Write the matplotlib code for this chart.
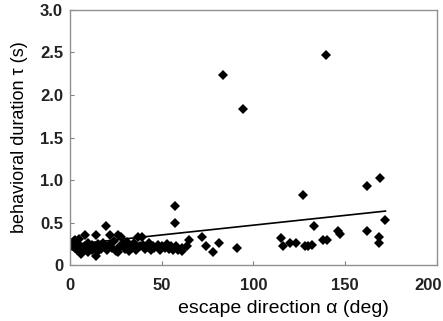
import numpy as np
import matplotlib.pyplot as plt
import matplotlib.transforms as mtransforms

plt.rcParams['font.family'] = ['Liberation Sans', 'DejaVu Sans']

# escape direction (deg) and behavioral duration (s)
alpha = np.array([0.5, 1, 2, 3, 3, 4, 5, 5, 6, 6, 7, 8, 8, 9, 10, 10, 11, 12, 12, 13,
                  14, 14, 15, 15, 16, 17, 18, 19, 19.5, 20, 21, 22, 23, 24, 25, 26, 26,
                  27, 28, 29, 30, 31, 32, 33, 34, 35, 36, 37, 38, 39, 40, 41, 42, 43,
                  44, 45, 46, 48, 49, 50, 52, 53, 54, 55, 56, 57, 57, 58, 59, 61, 61,
                  64, 65, 72, 74, 78, 81, 91, 83.4, 94.3, 115, 116, 120, 123, 127, 128,
                  130, 132, 133, 138, 140, 139.5, 146, 147, 162, 162, 169, 168.6, 168.6,
                  172])
tau = np.array([0.26, 0.22, 0.28, 0.30, 0.20, 0.18, 0.31, 0.24, 0.13, 0.21, 0.17, 0.36,
                0.23, 0.19, 0.26, 0.16, 0.21, 0.24, 0.18, 0.20, 0.36, 0.11, 0.25, 0.17,
                0.22, 0.19, 0.26, 0.21, 0.46, 0.18, 0.24, 0.35, 0.20, 0.28, 0.17, 0.35,
                0.15, 0.22, 0.33, 0.25, 0.19, 0.27, 0.17, 0.23, 0.20, 0.26, 0.18, 0.33,
                0.22, 0.33, 0.24, 0.19, 0.21, 0.26, 0.18, 0.22, 0.20, 0.24, 0.18, 0.22,
                0.20, 0.25, 0.19, 0.22, 0.18, 0.49, 0.69, 0.22, 0.18, 0.20, 0.17, 0.22,
                0.30, 0.33, 0.22, 0.16, 0.26, 0.20, 2.24, 1.84, 0.32, 0.22, 0.26, 0.26,
                0.83, 0.23, 0.23, 0.24, 0.46, 0.29, 0.29, 2.47, 0.40, 0.37, 0.93, 0.40,
                1.02, 0.33, 0.26, 0.53])

# regression line
fit_x = np.array([0, 172])
intercept = 0.24
slope = 0.0023

fig = plt.figure(figsize=(4.43, 3.21), dpi=100)
ax = fig.add_axes([0.158, 0.174, 0.828, 0.795])

ax.plot(alpha, tau, 'kD', markersize=5, markeredgewidth=0)
ax.plot(fit_x, intercept + slope * fit_x, 'k-', linewidth=1.2)

ax.set_xlim(0, 200)
ax.set_ylim(0, 3.0)
ax.set_xticks([0, 50, 100, 150, 200])
ax.set_yticks([0, 0.5, 1.0, 1.5, 2.0, 2.5, 3.0])
ax.set_yticklabels(['0', '0.5', '1.0', '1.5', '2.0', '2.5', '3.0'])
ax.tick_params(direction='in', length=3, color='#808080', labelsize=12)
ax.tick_params(axis='x', pad=9)
ax.tick_params(axis='y', pad=5)
for lab in ax.get_xticklabels() + ax.get_yticklabels():
    lab.set_fontweight('bold')
    lab.set_color('#222222')
# keep the last x label inside the picture
last = ax.get_xticklabels()[-1]
last.set_transform(last.get_transform() +
                   mtransforms.ScaledTranslation(-6 / 72, 0, fig.dpi_scale_trans))
for s in ax.spines.values():
    s.set_color('#909090')
    s.set_linewidth(1)

ax.set_xlabel('escape direction \u03b1 (deg)', fontsize=14)
ax.set_ylabel('behavioral duration \u03c4 (s)', fontsize=13)
ax.xaxis.set_label_coords(0.583, -0.135)
ax.yaxis.set_label_coords(-0.115, 0.5)

fig.savefig('out.png', dpi=100)
